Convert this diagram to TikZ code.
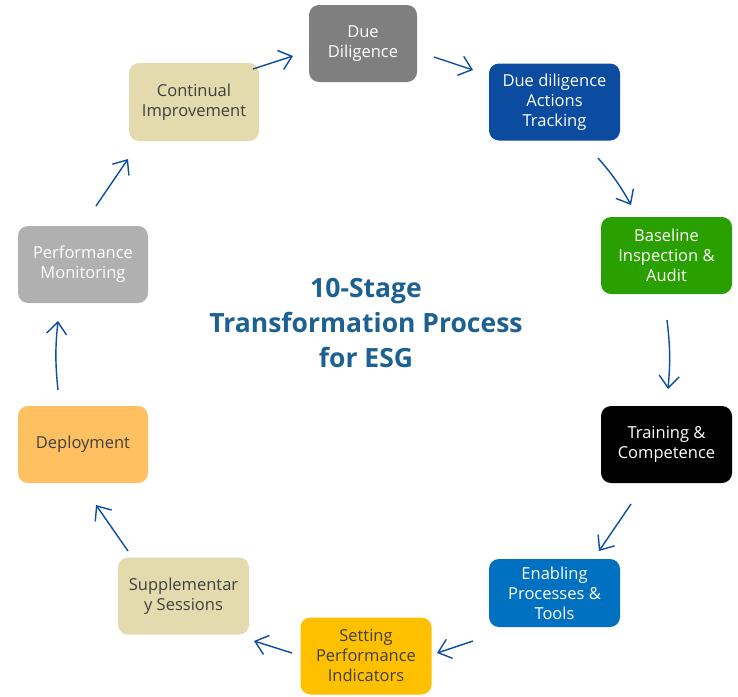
\documentclass[tikz,border=0pt]{standalone}
\usepackage{fontspec}
\setmainfont{Open Sans}
\usetikzlibrary{arrows.meta}
\definecolor{arrowblue}{HTML}{0B4DA2}
\definecolor{ddgray}{HTML}{7F7F7F}
\definecolor{ddablue}{HTML}{0B4BA0}
\definecolor{basegreen}{HTML}{2AA000}
\definecolor{enblue}{HTML}{0070C0}
\definecolor{setgold}{HTML}{FFC000}
\definecolor{beige}{HTML}{E3DAAD}
\definecolor{deporange}{HTML}{FFC061}
\definecolor{pmgray}{HTML}{B0B0B0}
\definecolor{darktext}{HTML}{404040}
\definecolor{titleblue}{HTML}{1C6192}
\tikzset{
  stagebox/.style={rounded corners=10pt, minimum width=#1, align=center,
    font=\fontsize{16.5}{20}\selectfont, inner sep=0pt, draw=none},
  cyc/.style={draw=arrowblue, line width=1.4pt, -{Straight Barb[length=12pt,width=20pt,line width=1.4pt]}},
}
\begin{document}
\begin{tikzpicture}[x=1pt,y=-1pt]
\useasboundingbox (0,0) rectangle (738,696);
\fill[white] (0,0) rectangle (738,696);
% boxes
\node[stagebox=108pt, minimum height=77pt, fill=ddgray, text=white] (n1) at (363,43.5) {Due\\Diligence};
\node[stagebox=131pt, minimum height=77pt, fill=ddablue, text=white] (n2) at (554.5,102) {Due diligence\\Actions\\Tracking};
\node[stagebox=131pt, minimum height=77pt, fill=basegreen, text=white] (n3) at (666.5,255.5) {Baseline\\Inspection \&\\Audit};
\node[stagebox=131pt, minimum height=77pt, fill=black, text=white] (n4) at (666.5,444.5) {Training \&\\Competence};
\node[stagebox=131pt, minimum height=68pt, fill=enblue, text=white] (n5) at (554.5,593) {Enabling\\Processes \&\\Tools};
\node[stagebox=131pt, minimum height=77pt, fill=setgold, text=darktext] (n6) at (366,656) {Setting\\Performance\\Indicators};
\node[stagebox=131pt, minimum height=77pt, fill=beige, text=darktext] (n7) at (183.5,596) {Supplementar\\y Sessions};
\node[stagebox=130pt, minimum height=77pt, fill=deporange, text=darktext] (n8) at (83,444.5) {Deployment};
\node[stagebox=130pt, minimum height=77pt, fill=pmgray, text=white] (n9) at (83,264.5) {Performance\\Monitoring};
\node[stagebox=130pt, minimum height=78pt, fill=beige, text=darktext] (n10) at (194,102) {Continual\\Improvement};
% title
\node[align=center, text=titleblue, font=\fontsize{26.5}{35}\bfseries\selectfont] (title) at (366,323) {10-Stage\\Transformation Process\\for ESG};
% arrow end points
\coordinate (a1s) at (253,69);  \coordinate (a1e) at (293,56);
\coordinate (a2s) at (434,57);  \coordinate (a2e) at (473,70);
\coordinate (a3s) at (598,158); \coordinate (a3e) at (631,205);
\coordinate (a4s) at (667,320); \coordinate (a4e) at (668,389);
\coordinate (a5s) at (631,504); \coordinate (a5e) at (599,551);
\coordinate (a6s) at (473,641); \coordinate (a6e) at (437,653);
\coordinate (a7s) at (292,653); \coordinate (a7e) at (254,641);
\coordinate (a8s) at (128,551); \coordinate (a8e) at (96,505);
\coordinate (a9s) at (58,390);  \coordinate (a9e) at (58,321);
\coordinate (a10s) at (96,206); \coordinate (a10e) at (128,159);
% connectors
\draw[cyc] (a1s) -- (a1e);
\draw[cyc] (a2s) -- (a2e);
\draw[cyc] (a3s) to[bend left=6] (a3e);
\draw[cyc] (a4s) to[bend left=6] (a4e);
\draw[cyc] (a5s) -- (a5e);
\draw[cyc] (a6s) -- (a6e);
\draw[cyc] (a7s) -- (a7e);
\draw[cyc] (a8s) -- (a8e);
\draw[cyc] (a9s) to[bend left=6] (a9e);
\draw[cyc] (a10s) -- (a10e);
\end{tikzpicture}
\end{document}
